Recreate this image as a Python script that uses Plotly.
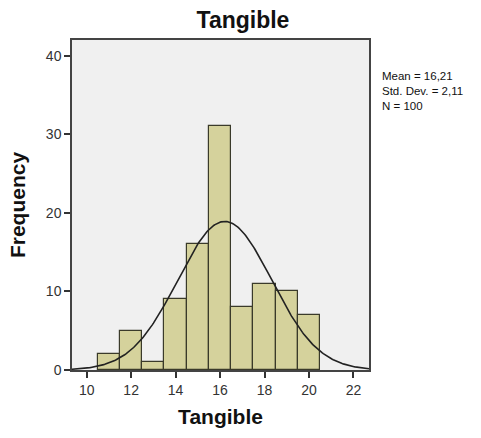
import numpy as np
import plotly.graph_objects as go

bin_centers = [11, 12, 13, 14, 15, 16, 17, 18, 19, 20]
frequencies = [2, 5, 1, 9, 16, 31, 8, 11, 10, 7]
mean_val = 16.21
std_val = 2.11
n_val = 100
x_ticks = [10, 12, 14, 16, 18, 20, 22]
y_ticks = [0, 10, 20, 30, 40]
stats_lines = ["Mean = 16,21", "Std. Dev. = 2,11", "N = 100"]

x_lo, x_hi = 9.34, 22.7
xs = np.linspace(x_lo, x_hi, 300)
ys = n_val * 1.0 / (std_val * np.sqrt(2 * np.pi)) * np.exp(-0.5 * ((xs - mean_val) / std_val) ** 2)

fig = go.Figure()
fig.add_trace(go.Bar(x=bin_centers, y=frequencies, width=1,
                     marker=dict(color="#d5d29c", line=dict(color="#3a3a2a", width=1.2)),
                     hoverinfo="skip"))
fig.add_trace(go.Scatter(x=xs, y=ys, mode="lines", line=dict(color="#222222", width=1.6),
                         hoverinfo="skip"))

fig.update_layout(
    width=481, height=438,
    margin=dict(l=72, r=112, t=40, b=68),
    paper_bgcolor="white", plot_bgcolor="#f0f0f0",
    showlegend=False,
    bargap=0,
    title=dict(text="<b>Tangible</b>", x=243 / 481, xanchor="center",
               y=1 - 20 / 438, yanchor="middle",
               font=dict(family="Liberation Sans, Arial", size=23, color="#111111")),
    font=dict(family="Liberation Sans, Arial", color="#222222"),
)
fig.update_xaxes(range=[x_lo, x_hi], tickvals=x_ticks, ticks="outside", ticklen=6,
                 tickcolor="#333333", tickwidth=1.5, showgrid=False, zeroline=False,
                 showline=True, linecolor="#444444", linewidth=1.5, mirror=True,
                 tickfont=dict(size=14, color="#333333"), automargin=False,
                 title=dict(text="<b>Tangible</b>", font=dict(size=21, color="#111111"), standoff=13))
fig.update_yaxes(range=[0, 42], tickvals=y_ticks, ticks="outside", ticklen=6,
                 tickcolor="#333333", tickwidth=1.5, showgrid=False, zeroline=False,
                 showline=True, linecolor="#444444", linewidth=1.5, mirror=True,
                 tickfont=dict(size=14, color="#333333"), automargin=False,
                 title=dict(text="<b>Frequency</b>", font=dict(size=21, color="#111111"), standoff=15))

fig.add_annotation(xref="paper", yref="paper", x=(380 - 72) / (369 - 72), y=(370 - 68) / (370 - 40),
                   xanchor="left", yanchor="top", align="left", showarrow=False,
                   text="<br>".join(stats_lines),
                   font=dict(size=11.5, color="#111111", family="Liberation Sans, Arial"))

fig.write_html("out.html", config={"displayModeBar": False},
               post_script="document.body.style.margin='0';")
